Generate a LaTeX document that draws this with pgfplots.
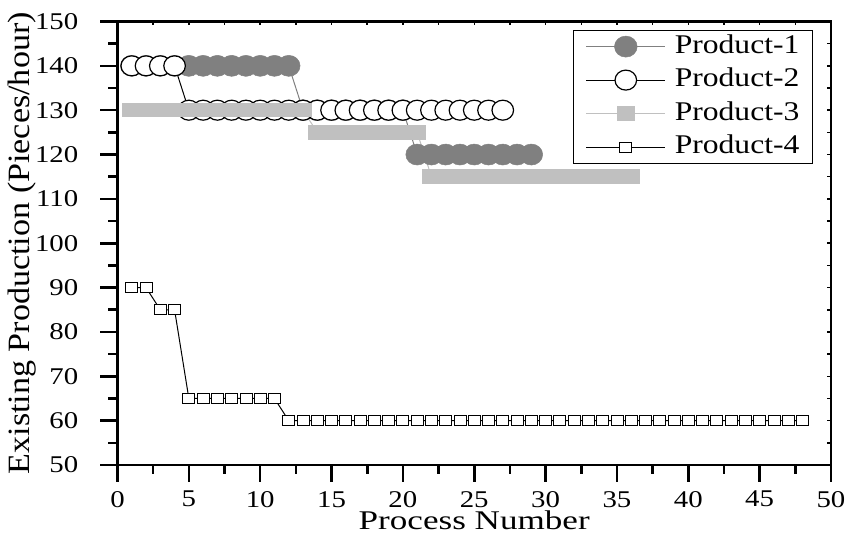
\documentclass[border=0pt]{standalone}
\usepackage{fontspec}
\setmainfont{Liberation Serif}
\newfontfamily\tickfont{Liberation Serif}[FakeStretch=1.2]
\newfontfamily\labfont{Liberation Serif}[FakeStretch=1.1]
\newfontfamily\xlabfont{Liberation Serif}[FakeStretch=1.3]
\newfontfamily\legfont{Liberation Serif}[FakeStretch=1.17]
\usepackage{pgfplots}
\pgfplotsset{compat=1.18}
\definecolor{pone}{HTML}{808080}
\definecolor{pthree}{HTML}{C0C0C0}
\begin{document}
\begin{tikzpicture}
\path[use as bounding box] (-117.5pt,-72pt) rectangle (731.5pt,465pt);
\begin{axis}[
  at={(0pt,0pt)}, anchor=south west,
  width=713.5pt, height=443.5pt, scale only axis,
  xmin=0, xmax=50, ymin=50, ymax=150,
  xtick={0,5,...,50}, ytick={50,60,...,150},
  minor x tick num=1, minor y tick num=1,
  xtick pos=left, ytick pos=left,
  tick align=outside,
  major tick length=17pt, minor tick length=9pt,
  axis line style={line width=2.6pt},
  tick style={line width=2.6pt, black},
  /pgf/number format/assume math mode=true,
  ticklabel style={font=\tickfont\fontsize{24}{24}\selectfont},
  yticklabel style={inner sep=0pt, anchor=east, xshift=-22pt},
  xticklabel style={inner sep=0pt, anchor=north, yshift=-9pt},
  xlabel={Process Number},
  ylabel={Existing Production (Pieces/hour)},
  ylabel style={font=\labfont\fontsize{31}{31}\selectfont, at={(axis description cs:0,0.5)}, anchor=base, yshift=87.5pt},
  xlabel style={font=\xlabfont\fontsize{27}{27}\selectfont, at={(axis description cs:0.5,0)}, anchor=base, yshift=-65pt},
  legend cell align=left,
  legend image code/.code={\draw[mark repeat=2,mark phase=2,#1] plot coordinates {(0pt,0pt) (39.5pt,0pt) (79pt,0pt)};},
  legend style={at={(0.9748,0.9808)}, anchor=north east, draw=black, line width=1.2pt,
    font=\legfont\fontsize{27}{27}\selectfont,
    inner xsep=12pt, inner ysep=2.5pt, row sep=6.5pt, column sep=8pt,
    nodes={inner sep=1pt, text height=19pt, text depth=6pt}},
]
\addplot[pone, line width=1pt, mark=*, mark size=10.5pt,
  mark options={xscale=1.08, fill=pone, draw=pone, line width=0.5pt}]
coordinates {
(1,140) (2,140) (3,140) (4,140) (5,140) (6,140) (7,140) (8,140) (9,140) (10,140) (11,140) (12,140)
(13,130) (14,130) (15,130) (16,130) (17,130) (18,130) (19,130) (20,130)
(21,120) (22,120) (23,120) (24,120) (25,120) (26,120) (27,120) (28,120) (29,120)
};
\addlegendentry{Product-1}
\addplot[black, line width=1pt, mark=*, mark size=10pt,
  mark options={xscale=1.08, fill=white, draw=black, line width=1.2pt}]
coordinates {
(1,140) (2,140) (3,140) (4,140)
(5,130) (6,130) (7,130) (8,130) (9,130) (10,130) (11,130) (12,130) (13,130) (14,130) (15,130) (16,130)
(17,130) (18,130) (19,130) (20,130) (21,130) (22,130) (23,130) (24,130) (25,130) (26,130) (27,130)
};
\addlegendentry{Product-2}
\addplot[pthree, line width=1pt, mark=square*, mark size=6.75pt,
  mark options={xscale=1.3, fill=pthree, draw=none}]
coordinates {
(1,130) (2,130) (3,130) (4,130) (5,130) (6,130) (7,130) (8,130) (9,130) (10,130) (11,130) (12,130) (13,130)
(14,125) (15,125) (16,125) (17,125) (18,125) (19,125) (20,125) (21,125)
(22,115) (23,115) (24,115) (25,115) (26,115) (27,115) (28,115) (29,115) (30,115) (31,115) (32,115)
(33,115) (34,115) (35,115) (36,115)
};
\addlegendentry{Product-3}
\addplot[black, line width=1pt, mark=square*, mark size=5pt,
  mark options={xscale=1.2, fill=white, draw=black, line width=0.8pt}]
coordinates {
(1,90) (2,90) (3,85) (4,85)
(5,65) (6,65) (7,65) (8,65) (9,65) (10,65) (11,65)
(12,60) (13,60) (14,60) (15,60) (16,60) (17,60) (18,60) (19,60) (20,60) (21,60) (22,60) (23,60)
(24,60) (25,60) (26,60) (27,60) (28,60) (29,60) (30,60) (31,60) (32,60) (33,60) (34,60) (35,60)
(36,60) (37,60) (38,60) (39,60) (40,60) (41,60) (42,60) (43,60) (44,60) (45,60) (46,60) (47,60) (48,60)
};
\addlegendentry{Product-4}
\end{axis}
\begin{axis}[
  at={(0pt,0pt)}, anchor=south west,
  width=713.5pt, height=443.5pt, scale only axis,
  xmin=0, xmax=50, ymin=50, ymax=150,
  xtick={0,5,...,50}, ytick={50,60,...,150},
  minor x tick num=1, minor y tick num=1,
  xtick pos=right, ytick pos=right,
  tick align=inside,
  major tick length=4pt, minor tick length=4pt,
  axis line style={line width=2.6pt},
  tick style={line width=1.5pt, black},
  xticklabels={}, yticklabels={},
]
\end{axis}
\end{tikzpicture}
\end{document}
